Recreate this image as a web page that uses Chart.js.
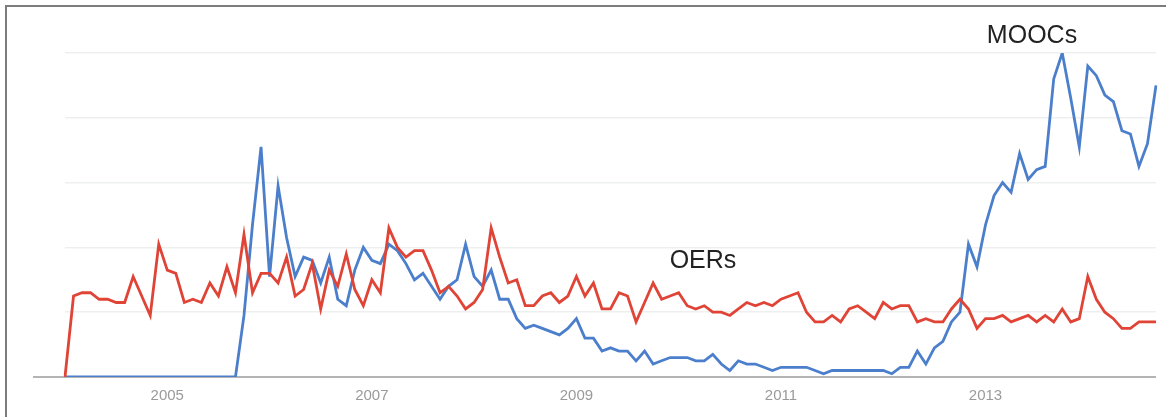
<!DOCTYPE html>
<html>
<head>
<meta charset="utf-8">
<script src="https://cdn.jsdelivr.net/npm/chart.js@4.4.0/dist/chart.umd.min.js"></script>
<style>
  html, body { margin: 0; padding: 0; background: #fff; }
  #wrap { position: relative; width: 1166px; height: 417px; overflow: hidden; }
  #trendChart { position: absolute; left: 0; top: 0; }
  #frame { position: absolute; left: 5px; top: 5px; width: 1200px; height: 450px;
           border-left: 2px solid #7c7c7c; border-top: 2px solid #7c7c7c; }
  .note { position: absolute; font-family: 'Liberation Sans', Arial, sans-serif; font-size: 25px;
          line-height: 25px; color: #222; transform: translateX(-50%); white-space: nowrap; }
</style>
</head>
<body>
<div id="wrap">
  <canvas id="trendChart" width="1166" height="417"></canvas>
  <div id="frame"></div>
  <div class="note" style="left:1032px; top:22px">MOOCs</div>
  <div class="note" style="left:703px; top:247px">OERs</div>
</div>
<script>
// meses de jan/2004 a set/2014
const startYear = 2004;
const monthCount = 129;
const months = [];
for (let i = 0; i < monthCount; i++) {
    const y = startYear + Math.floor(i / 12);
    const m = String(i % 12 + 1).padStart(2, '0');
    months.push(y + '-' + m);
}
const tickYears = ['2005', '2007', '2009', '2011', '2013'];

// interesse relativo (0-100)
const moocs = [
    0, 0, 0, 0, 0, 0, 0, 0, 0, 0, 0, 0,
    0, 0, 0, 0, 0, 0, 0, 0, 0, 19, 47, 71,
    31, 59, 43, 31, 37, 36, 29, 37, 24, 22, 33, 40,
    36, 35, 41, 39, 35, 30, 32, 28, 24, 28, 30, 41,
    31, 28, 33, 24, 24, 18, 15, 16, 15, 14, 13, 15,
    18, 12, 12, 8, 9, 8, 8, 5, 8, 4, 5, 6,
    6, 6, 5, 5, 7, 4, 2, 5, 4, 4, 3, 2,
    3, 3, 3, 3, 2, 1, 2, 2, 2, 2, 2, 2,
    2, 1, 3, 3, 8, 4, 9, 11, 17, 20, 41, 34,
    47, 56, 60, 57, 69, 61, 64, 65, 92, 100, 86, 71,
    96, 93, 87, 85, 76, 75, 65, 72, 90
];
const oers = [
    0, 25, 26, 26, 24, 24, 23, 23, 31, 25, 19, 41,
    33, 32, 23, 24, 23, 29, 25, 34, 26, 44, 26, 32,
    32, 29, 37, 25, 27, 35, 21, 33, 28, 38, 27, 22,
    30, 26, 46, 40, 37, 39, 39, 33, 26, 28, 25, 21,
    23, 27, 46, 37, 29, 30, 22, 22, 25, 26, 23, 25,
    31, 25, 29, 21, 21, 26, 25, 17, 23, 29, 24, 25,
    26, 22, 21, 22, 20, 20, 19, 21, 23, 22, 23, 22,
    24, 25, 26, 20, 17, 17, 19, 17, 21, 22, 20, 18,
    23, 21, 22, 22, 17, 18, 17, 17, 21, 24, 21, 15,
    18, 18, 19, 17, 18, 19, 17, 19, 17, 21, 17, 18,
    31, 24, 20, 18, 15, 15, 17, 17, 17
];

// linha de base estendida para a esquerda
const baseLine = {
    id: 'baseLine',
    beforeDatasetsDraw(chart) {
        const ctx = chart.ctx;
        const y = chart.scales.y.getPixelForValue(0);
        ctx.save();
        ctx.strokeStyle = '#b4b4b4';
        ctx.lineWidth = 2;
        ctx.beginPath();
        ctx.moveTo(33, y);
        ctx.lineTo(chart.chartArea.right, y);
        ctx.stroke();
        ctx.restore();
    }
};

new Chart(document.getElementById('trendChart'), {
    type: 'line',
    data: {
        labels: months,
        datasets: [
            {
                label: 'OERs',
                data: oers,
                borderColor: '#df4436',
                borderWidth: 2.8,
                pointRadius: 0,
                tension: 0,
                order: 1
            },
            {
                label: 'MOOCs',
                data: moocs,
                borderColor: '#4b7fcb',
                borderWidth: 2.8,
                pointRadius: 0,
                tension: 0,
                order: 2
            }
        ]
    },
    options: {
        responsive: false,
        animation: false,
        layout: { padding: { left: 65, right: 9, top: 53, bottom: 2 } },
        plugins: { legend: { display: false }, tooltip: { enabled: false } },
        scales: {
            x: {
                offset: false,
                grid: { display: false, drawTicks: false },
                border: { display: false },
                ticks: {
                    autoSkip: false,
                    maxRotation: 0,
                    padding: 10,
                    color: '#9a9a9a',
                    font: { family: "'Liberation Sans', Arial, sans-serif", size: 15 },
                    callback: function (value) {
                        const lbl = this.getLabelForValue(value);
                        const [yr, mo] = lbl.split('-');
                        return (mo === '01' && tickYears.includes(yr)) ? yr : '';
                    }
                }
            },
            y: {
                display: true,
                min: 0,
                max: 100,
                ticks: { display: false, stepSize: 20 },
                border: { display: false },
                grid: {
                    drawTicks: false,
                    lineWidth: 1.5,
                    color: (c) => c.tick && c.tick.value === 0 ? 'rgba(0,0,0,0)' : '#eef0ef'
                }
            }
        }
    },
    plugins: [baseLine]
});
</script>
</body>
</html>
